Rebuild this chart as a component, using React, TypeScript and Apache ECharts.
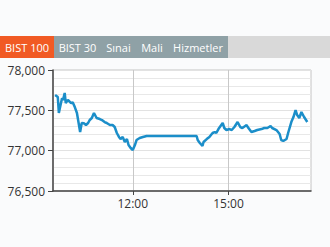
import React, { useEffect, useRef } from "react";
import * as echarts from "echarts";

const tabs = ["BIST 100", "BIST 30", "Sınai", "Mali", "Hizmetler"];
const yTicks = [76500, 77000, 77500, 78000];
const xLabelTimes = ["12:00", "15:00"];

const times = [
  "09:34", "09:39", "09:41", "09:45", "09:47", "09:49", "09:52", "09:54", "09:58",
  "10:04", "10:07", "10:11", "10:15", "10:21", "10:24", "10:28", "10:32", "10:36",
  "10:39", "10:43", "10:47", "10:52", "10:58", "11:02", "11:07", "11:11", "11:17",
  "11:22", "11:26", "11:30", "11:34", "11:37", "11:41", "11:45", "11:49", "11:52",
  "11:56", "12:00", "12:04", "12:07", "12:13", "12:19", "12:26", "12:32", "14:00",
  "14:02", "14:06", "14:11", "14:13", "14:19", "14:24", "14:30", "14:34", "14:37",
  "14:41", "14:45", "14:49", "14:52", "14:56", "15:02", "15:06", "15:11", "15:17",
  "15:22", "15:26", "15:34", "15:36", "15:43", "15:49", "15:54", "16:02", "16:07",
  "16:13", "16:19", "16:22", "16:30", "16:36", "16:39", "16:43", "16:49", "16:52",
  "16:58", "17:02", "17:06", "17:09", "17:13", "17:17", "17:22", "17:28"
];
const values = [
  77690, 77665, 77467, 77590, 77650, 77630, 77715, 77590, 77630,
  77590, 77600, 77540, 77467, 77231, 77343, 77340, 77318, 77343,
  77380, 77405, 77467, 77405, 77392, 77380, 77355, 77343, 77318,
  77318, 77293, 77219, 77170, 77144, 77170, 77107, 77144, 77070,
  77033, 77008, 77070, 77132, 77157, 77170, 77182, 77182, 77182,
  77132, 77095, 77058, 77107, 77144, 77170, 77219, 77231, 77219,
  77268, 77306, 77343, 77281, 77256, 77268, 77256, 77293, 77355,
  77293, 77281, 77318, 77293, 77231, 77244, 77256, 77268, 77281,
  77281, 77306, 77281, 77256, 77206, 77132, 77120, 77144, 77219,
  77355, 77417, 77504, 77442, 77405, 77479, 77417, 77355
];

const toMin = (t: string) => {
  const [h, m] = t.split(":").map(Number);
  return h * 60 + m;
};
const fmtTime = (v: number) => {
  const h = Math.floor(v / 60);
  const m = Math.round(v % 60);
  return `${h}:${m < 10 ? "0" + m : m}`;
};

export default function App() {
  const ref = useRef<HTMLDivElement>(null);
  useEffect(() => {
    if (!ref.current) return;
    const chart = echarts.init(ref.current, null, { renderer: "svg" });
    const tabX = [0, 54, 101, 136, 168];
    const tabW = [54, 47, 35, 32, 60];
    const graphics: any[] = [
      { type: "rect", shape: { x: 0, y: 36, width: 330, height: 22 }, style: { fill: "#d9d9d9" } },
      { type: "rect", shape: { x: 54, y: 36, width: 174, height: 22 }, style: { fill: "#8fa1a6" } },
      { type: "rect", shape: { x: 0, y: 36, width: 54, height: 22 }, style: { fill: "#f15a24" } },
    ];
    tabs.forEach((t, i) => {
      graphics.push({
        type: "text",
        x: tabX[i] + tabW[i] / 2,
        y: 47,
        style: {
          text: t,
          fill: "#ffffff",
          font: '11px "Open Sans"',
          align: "center",
          verticalAlign: "middle",
        },
      });
    });
    chart.setOption({
      animation: false,
      backgroundColor: "#fafbfc",
      textStyle: { fontFamily: '"Open Sans"' },
      graphic: graphics,
      grid: {
        left: 53,
        right: 19,
        top: 70,
        bottom: 56,
        show: true,
        backgroundColor: "#ffffff",
        borderColor: "#c4c4c4",
        borderWidth: 1,
      },
      xAxis: {
        type: "value",
        min: 570,
        max: 1055,
        axisLine: { show: true, lineStyle: { color: "#444", width: 1.5 } },
        axisTick: {
          show: true,
          length: 4,
          customValues: xLabelTimes.map(toMin),
          lineStyle: { color: "#444" },
        },
        axisLabel: {
          customValues: xLabelTimes.map(toMin),
          formatter: (v: number) => fmtTime(v),
          color: "#333",
          fontSize: 12,
          margin: 6,
        },
        splitLine: { show: true, lineStyle: { color: "#c8c8c8", width: 1 } },
      },
      yAxis: {
        type: "value",
        min: yTicks[0],
        max: yTicks[yTicks.length - 1],
        interval: 500,
        axisLine: { show: true, lineStyle: { color: "#444", width: 1.5 } },
        axisTick: { show: true, length: 5, lineStyle: { color: "#444" } },
        axisLabel: {
          formatter: (v: number) => v.toLocaleString("en-US"),
          color: "#333",
          fontSize: 12,
          margin: 8,
        },
        splitLine: { show: true, lineStyle: { color: "#e2e2e2" } },
        minorTick: { show: false, splitNumber: 5 },
        minorSplitLine: { show: true, lineStyle: { color: "#e8e8e8" } },
      },
      series: [
        {
          type: "line",
          data: times.map((t, i) => [toMin(t), values[i]]),
          showSymbol: false,
          lineStyle: { color: "#1b8ec9", width: 2.5 },
        },
      ],
    });
    return () => chart.dispose();
  }, []);
  return (
    <div
      ref={ref}
      style={{ position: "fixed", left: 0, top: 0, width: 330, height: 247 }}
    />
  );
}
